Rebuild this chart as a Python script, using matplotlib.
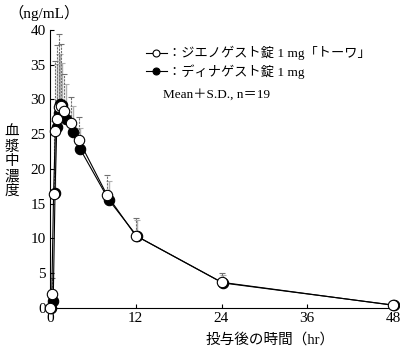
import numpy as np
import matplotlib
matplotlib.use('Agg')
import matplotlib.pyplot as plt
from matplotlib.lines import Line2D

plt.rcParams['font.family'] = ['Liberation Serif', 'Noto Sans CJK JP']

# time after dosing (hr)
hours = [0, 0.25, 0.5, 0.75, 1, 1.25, 1.5, 2, 3, 4, 8, 12, 24, 48]

# ジエノゲスト錠1mg「トーワ」 (open)
towa_mean = [0, 2.0, 16.4, 25.5, 27.2, 28.9, 29.0, 28.3, 26.6, 24.2, 16.2, 10.4, 3.7, 0.4]
towa_sd = [0, 2.3, 10.5, 10.0, 10.7, 10.5, 9.0, 5.4, 3.7, 3.3, 2.9, 2.6, 1.3, 0.3]

# ディナゲスト錠1mg (filled)
dina_mean = [0, 1.0, 16.5, 26.1, 28.0, 29.3, 29.2, 27.2, 25.3, 22.9, 15.6, 10.3, 3.6, 0.4]
dina_sd = [0, 1.5, 9.5, 9.0, 8.5, 7.3, 6.0, 5.0, 3.8, 3.0, 2.7, 2.3, 1.1, 0.3]

fig = plt.figure(figsize=(4, 3.52), dpi=100)
ax = fig.add_axes([0.125, 0.125, 0.8575, 0.79])

# small horizontal shift so the two series don't sit exactly on top of each other
shift = 0.2
t_open = np.array(hours)
t_fill = np.array(hours) + shift

# error bars (upper only)
eb1 = ax.errorbar(t_fill, dina_mean, yerr=[np.zeros(len(dina_sd)), dina_sd],
                  fmt='none', ecolor='#b0b0b0', elinewidth=1.0, capsize=2, capthick=0.8, zorder=1)
eb2 = ax.errorbar(t_open, towa_mean, yerr=[np.zeros(len(towa_sd)), towa_sd],
                  fmt='none', ecolor='#707070', elinewidth=0.8, capsize=2, capthick=0.8, zorder=1)
eb2[2][0].set_linestyle((0, (2, 1)))

ax.plot(t_fill, dina_mean, '-', color='black', lw=0.8, marker='o', ms=7.5,
        mfc='black', mec='black', mew=0.8, zorder=3, clip_on=False)
ax.plot(t_open, towa_mean, '-', color='black', lw=0.8, marker='o', ms=7.5,
        mfc='white', mec='black', mew=0.8, zorder=4, clip_on=False)

ax.set_xlim(0, 48)
ax.set_ylim(0, 40)
ax.set_xticks([0, 12, 24, 36, 48])
ax.set_yticks(range(0, 41, 5))
ax.tick_params(direction='in', length=3, width=0.8, labelsize=11, pad=3)
ax.spines['top'].set_visible(False)
ax.spines['right'].set_visible(False)
for s in ['left', 'bottom']:
    ax.spines[s].set_linewidth(0.8)

# labels
fig.text(0.02, 0.962, '（ng/mL）', fontsize=11, ha='left', va='center')
fig.text(0.03, 0.54, '\n'.join('血漿中濃度'), fontsize=10.5, ha='center', va='center', linespacing=1.15)
fig.text(0.675, 0.034, '投与後の時間（hr）', fontsize=10.5, ha='center', va='center')

# legend
h1 = Line2D([], [], color='black', lw=0.8, marker='o', ms=5, mfc='white', mec='black', mew=0.8)
h2 = Line2D([], [], color='black', lw=0.8, marker='o', ms=5, mfc='black', mec='black', mew=0.8)
leg = ax.legend([h1, h2], ['：ジエノゲスト錠 1 mg「トーワ」', '：ディナゲスト錠 1 mg'],
                loc='center left', bbox_to_anchor=(0.245, 0.883), frameon=False,
                handlelength=1.6, handletextpad=0.1, fontsize=9.5, labelspacing=0.3)
ax.text(0.328, 0.766, 'Mean＋S.D., n＝19', transform=ax.transAxes, fontsize=9.5,
        ha='left', va='center')

fig.savefig('out.png', dpi=100)
